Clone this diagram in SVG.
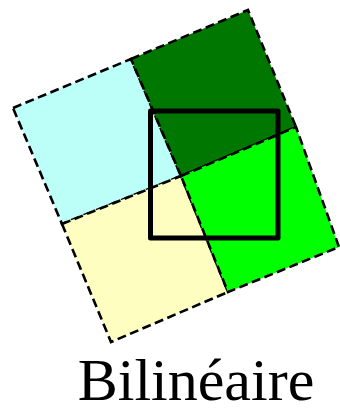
<svg xmlns="http://www.w3.org/2000/svg" width="340" height="414" viewBox="0 0 340 414">
<style>
.cell{stroke:#000;stroke-width:2.6;stroke-dasharray:9,4.5;stroke-linejoin:miter}
.box{fill:none;stroke:#000;stroke-width:5;stroke-linejoin:round}
.lbl{font-family:"Liberation Serif","Times New Roman",serif;font-size:60px;fill:#000;text-anchor:middle}
</style>
<g id="cell-tl"><polygon class="cell" fill="#bbfff8" points="13,108 131,59 181,176 62,224"/></g>
<g id="cell-tr"><polygon class="cell" fill="#007700" points="131,59 248,10 296,127 181,176"/></g>
<g id="cell-bl"><polygon class="cell" fill="#fefec0" points="62,224 181,176 228,292 111,342"/></g>
<g id="cell-br"><polygon class="cell" fill="#00ff00" points="181,176 296,127 339,247 228,292"/></g>
<g id="target"><rect class="box" x="150.5" y="111" width="127.5" height="127"/></g>
<g id="label"><text class="lbl" x="196" y="400">Bilinéaire</text></g>
</svg>
